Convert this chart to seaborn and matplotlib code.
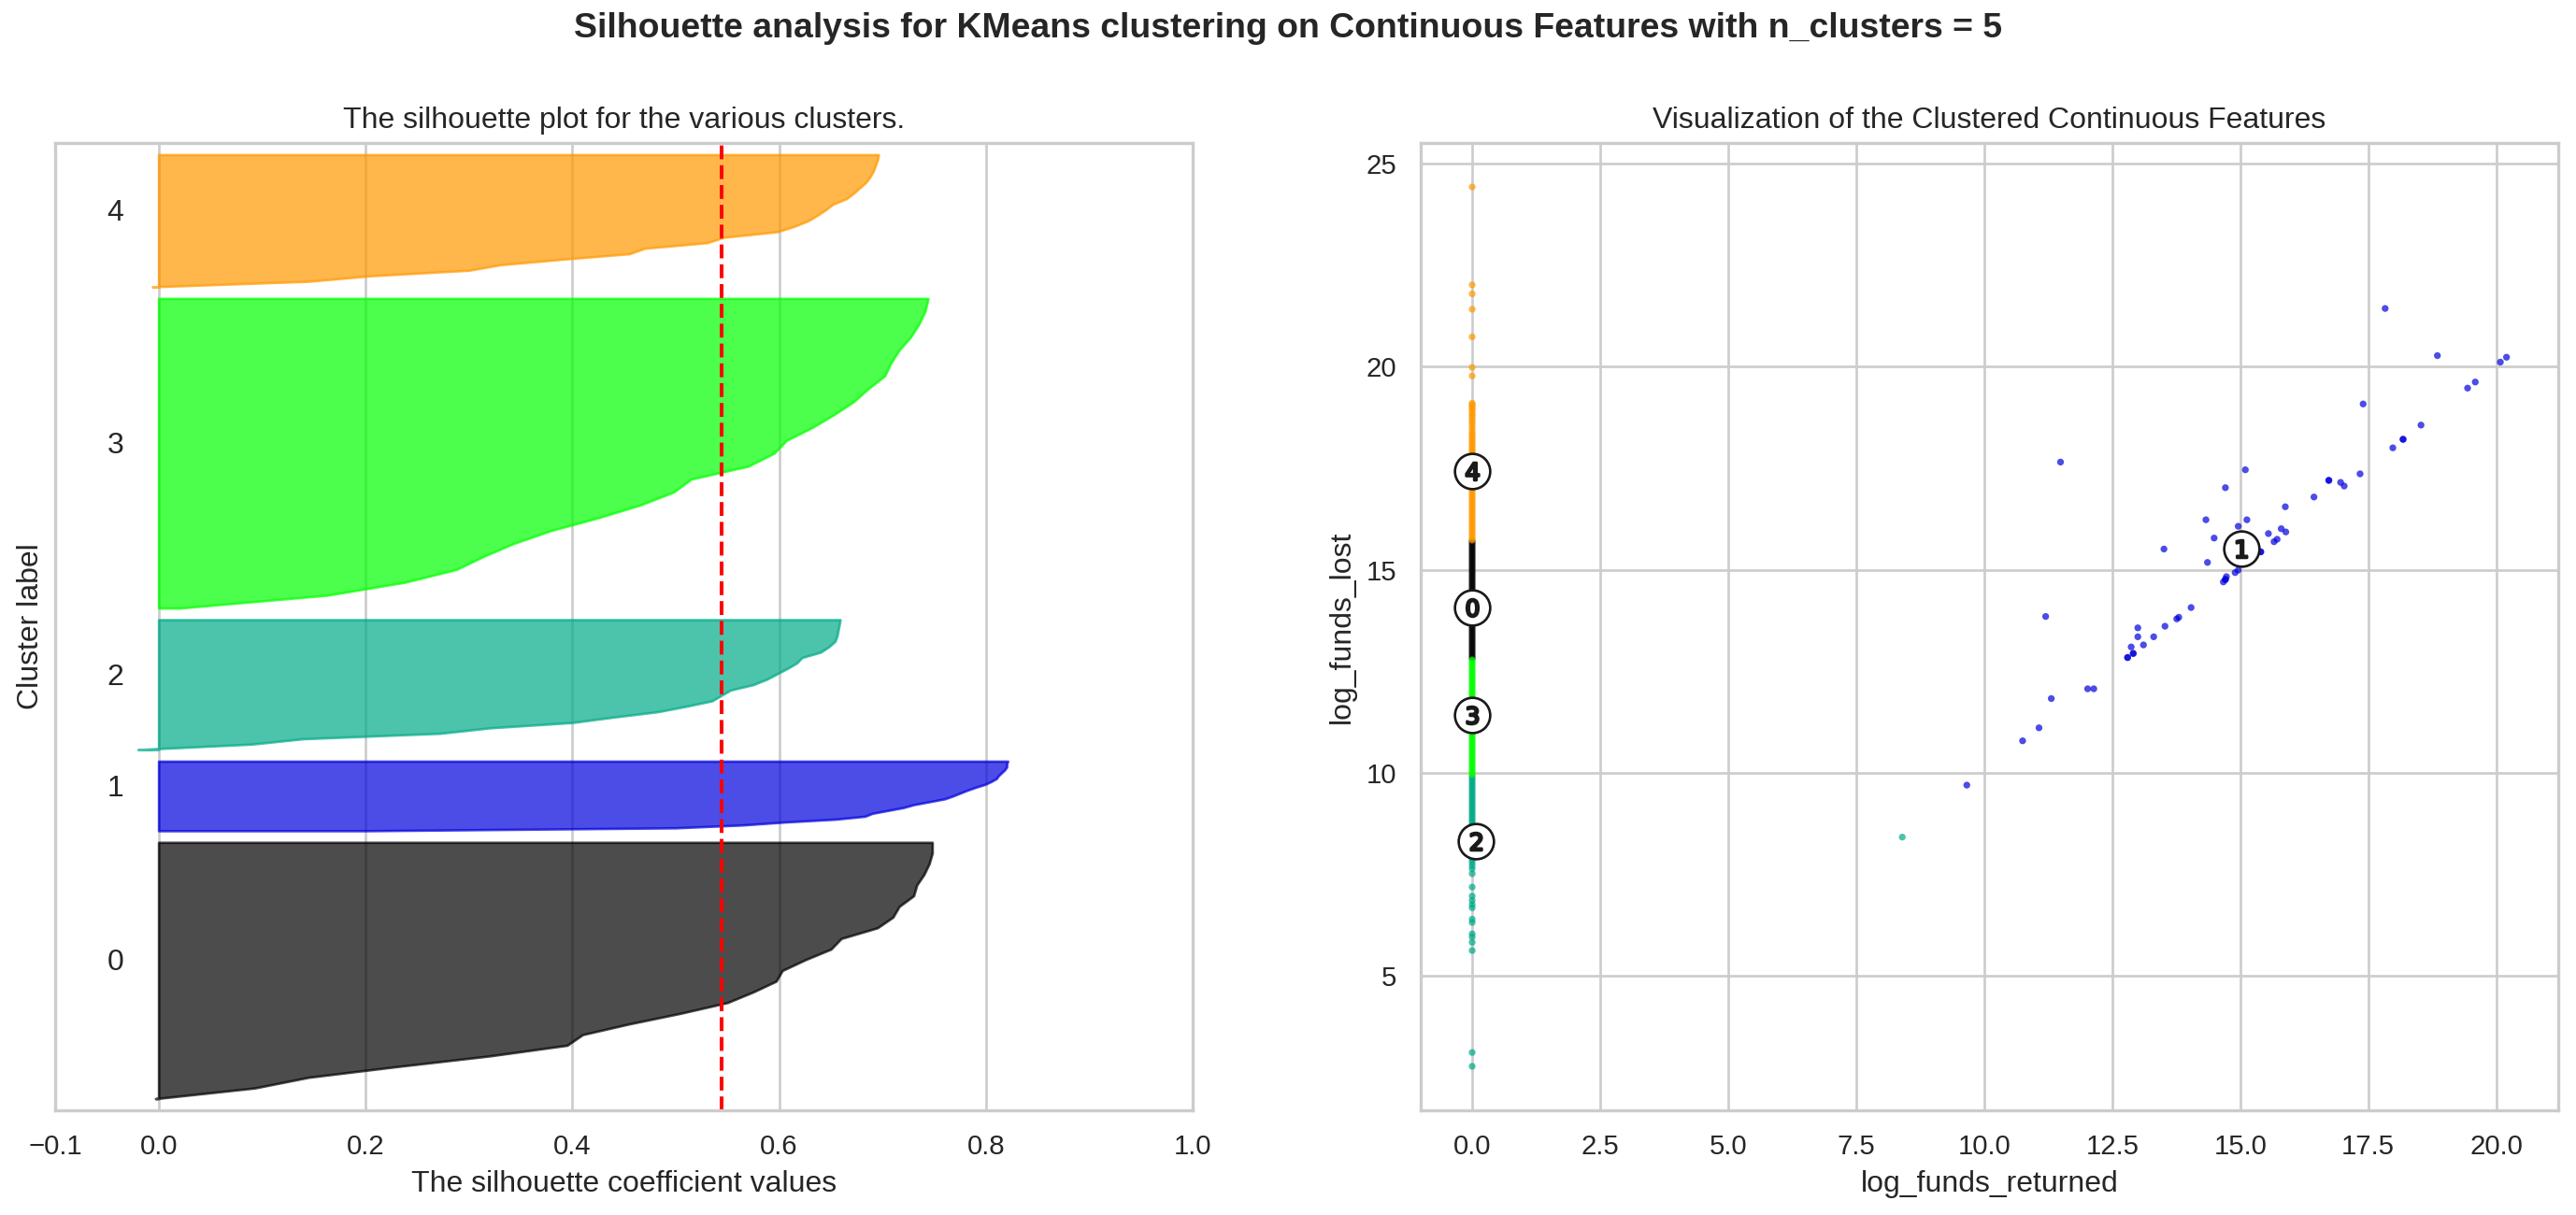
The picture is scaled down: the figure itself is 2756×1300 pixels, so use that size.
import numpy as np
import pandas as pd
import matplotlib
matplotlib.use("Agg")
import matplotlib.pyplot as plt
import matplotlib.cm as cm
import seaborn as sns

n_clusters = 5
silhouette_avg = 0.544

# rows per cluster in the silhouette plot
cluster_sizes = [221, 60, 112, 267, 114]

# sorted silhouette values per cluster (bottom -> top)
sil_0 = [-0.003, 0.093, 0.145, 0.23, 0.32, 0.395, 0.41, 0.455, 0.505, 0.55, 0.575, 0.597, 0.603,
         0.625, 0.65, 0.66, 0.695, 0.71, 0.716, 0.73, 0.733, 0.74, 0.745, 0.748, 0.748]
sil_1 = [0.2, 0.5, 0.565, 0.605, 0.655, 0.683, 0.69, 0.705, 0.72, 0.73, 0.745, 0.76, 0.768,
         0.775, 0.782, 0.79, 0.799, 0.805, 0.81, 0.812, 0.815, 0.818, 0.82, 0.82, 0.821]
sil_2 = [-0.02, 0.09, 0.14, 0.272, 0.32, 0.40, 0.44, 0.483, 0.51, 0.535, 0.544, 0.553, 0.575,
         0.588, 0.598, 0.608, 0.617, 0.622, 0.64, 0.648, 0.654, 0.656, 0.657, 0.658, 0.659]
sil_3 = [0.02, 0.163, 0.238, 0.288, 0.314, 0.343, 0.379, 0.425, 0.466, 0.498, 0.515, 0.57, 0.595,
         0.607, 0.632, 0.653, 0.672, 0.686, 0.702, 0.708, 0.716, 0.727, 0.735, 0.741, 0.744]
sil_4 = [-0.006, 0.145, 0.205, 0.30, 0.33, 0.39, 0.455, 0.47, 0.53, 0.547, 0.598, 0.615, 0.628,
         0.637, 0.645, 0.652, 0.665, 0.672, 0.678, 0.684, 0.688, 0.691, 0.693, 0.695, 0.696]
sil_values = [sil_0, sil_1, sil_2, sil_3, sil_4]

# scatter points: log_funds_lost per cluster (clusters 0, 2, 3, 4 sit at log_funds_returned = 0)
lost_c0 = [15.70, 15.64, 15.58, 15.52, 15.46, 15.40, 15.34, 15.28, 15.22, 15.16, 15.10, 15.04,
           14.98, 14.92, 14.86, 14.80, 14.74, 14.68, 14.62, 14.56, 14.50, 14.44, 14.38, 14.32,
           14.26, 14.20, 14.14, 14.08, 14.02, 13.96, 13.90, 13.84, 13.78, 13.72, 13.66, 13.60,
           13.54, 13.48, 13.42, 13.36, 13.30, 13.24, 13.18, 13.12, 13.06, 13.00, 12.94, 12.88, 12.82]
returned_c0 = [0.0] * len(lost_c0)

returned_c1 = [17.83, 18.85, 20.08, 20.20, 19.44, 19.59, 17.40, 18.53, 18.18, 18.18, 17.98, 11.49,
               15.10, 14.71, 17.34, 16.73, 16.73, 16.96, 17.03, 16.44, 15.88, 14.33, 15.13, 14.96,
               15.80, 15.89, 15.55, 14.49, 15.72, 15.66, 13.51, 15.40, 15.40, 14.36, 14.96, 14.90,
               14.73, 14.71, 14.71, 14.67, 14.04, 13.80, 13.76, 11.20, 13.53, 13.00, 13.00, 13.31,
               13.11, 12.87, 12.91, 12.91, 12.80, 12.80, 12.02, 12.14, 11.31, 11.07, 10.75, 9.66]
lost_c1 = [21.43, 20.27, 20.11, 20.23, 19.47, 19.62, 19.08, 18.56, 18.21, 18.21, 18.00, 17.65,
           17.46, 17.02, 17.36, 17.20, 17.20, 17.15, 17.06, 16.79, 16.55, 16.23, 16.23, 16.07,
           16.01, 15.93, 15.89, 15.78, 15.75, 15.69, 15.51, 15.44, 15.44, 15.18, 14.99, 14.93,
           14.83, 14.76, 14.76, 14.70, 14.07, 13.83, 13.79, 13.85, 13.61, 13.57, 13.35, 13.35,
           13.15, 13.10, 12.94, 12.94, 12.84, 12.84, 12.07, 12.07, 11.83, 11.11, 10.79, 9.70]

lost_c2 = [9.91, 9.85, 9.79, 9.73, 9.67, 9.61, 9.55, 9.49, 9.43, 9.37, 9.31, 9.25, 9.19, 9.13,
           9.07, 9.01, 8.95, 8.89, 8.83, 8.77, 8.71, 8.65, 8.59, 8.53, 8.47, 8.41, 8.35, 8.29,
           8.23, 8.17, 8.11, 8.05, 7.99, 7.93, 7.87, 7.80, 7.72, 7.64, 7.52, 7.19, 6.97, 6.86,
           6.76, 6.68, 6.40, 6.32, 6.04, 5.96, 5.83, 5.63, 3.12, 2.78, 8.42]
returned_c2 = [0.0] * (len(lost_c2) - 1) + [8.40]

lost_c3 = [12.78, 12.72, 12.66, 12.60, 12.54, 12.48, 12.42, 12.36, 12.30, 12.24, 12.18, 12.12,
           12.06, 12.00, 11.94, 11.88, 11.82, 11.76, 11.70, 11.64, 11.58, 11.52, 11.46, 11.40,
           11.34, 11.28, 11.22, 11.16, 11.10, 11.04, 10.98, 10.92, 10.86, 10.80, 10.74, 10.68,
           10.62, 10.56, 10.50, 10.44, 10.38, 10.32, 10.26, 10.20, 10.14, 10.08, 10.02, 9.96]
returned_c3 = [0.0] * len(lost_c3)

lost_c4 = [24.42, 22.01, 21.79, 21.41, 20.73, 19.98, 19.77, 19.10, 19.06, 19.02, 18.97, 18.92,
           18.85, 18.80, 18.74, 18.68, 18.62, 18.55, 18.48, 18.40, 18.34, 18.28, 18.22, 18.16,
           18.10, 18.04, 17.98, 17.93, 17.87, 17.82, 17.76, 17.70, 17.64, 17.58, 17.52, 17.46,
           17.40, 17.34, 17.28, 17.22, 17.16, 17.10, 17.04, 16.98, 16.92, 16.86, 16.80, 16.74,
           16.68, 16.62, 16.56, 16.50, 16.44, 16.38, 16.32, 16.26, 16.20, 16.14, 16.08, 16.02,
           15.96, 15.90, 15.84, 15.78, 15.73]
returned_c4 = [0.0] * len(lost_c4)

center_returned = [0.0, 15.03, 0.08, 0.0, 0.0]
center_lost = [14.07, 15.53, 8.33, 11.42, 17.42]

returned_all = [returned_c0, returned_c1, returned_c2, returned_c3, returned_c4]
lost_all = [lost_c0, lost_c1, lost_c2, lost_c3, lost_c4]
df = pd.concat([
    pd.DataFrame({'log_funds_returned': r, 'log_funds_lost': l, 'cluster': i})
    for i, (r, l) in enumerate(zip(returned_all, lost_all))
], ignore_index=True)

sns.set_theme(style="whitegrid")
plt.rcParams['font.family'] = ['Liberation Sans', 'DejaVu Sans']

colors = [cm.nipy_spectral(float(i) / n_clusters) for i in range(n_clusters)]
palette = {i: colors[i] for i in range(n_clusters)}

fig, (ax1, ax2) = plt.subplots(1, 2, figsize=(2756 / 192, 1300 / 192), dpi=192)
fig.subplots_adjust(left=0.0214, right=0.9931, bottom=0.0862, top=0.8823, wspace=0.2)

# silhouette plot
n_samples = sum(cluster_sizes)
ax1.set_xlim([-0.1, 1])
ax1.set_ylim([0, n_samples + (n_clusters + 1) * 10])
y_lower = 10
for i in range(n_clusters):
    size_i = cluster_sizes[i]
    y_upper = y_lower + size_i
    ys = np.linspace(y_lower, y_upper, len(sil_values[i]))
    ax1.fill_betweenx(ys, 0, sil_values[i], facecolor=colors[i], edgecolor=colors[i], alpha=0.7)
    ax1.text(-0.05, y_lower + 0.5 * size_i, str(i))
    y_lower = y_upper + 10

ax1.set_title("The silhouette plot for the various clusters.")
ax1.set_xlabel("The silhouette coefficient values")
ax1.set_ylabel("Cluster label")
ax1.axvline(x=silhouette_avg, color="red", linestyle="--")
ax1.set_yticks([])
ax1.set_xticks([-0.1, 0, 0.2, 0.4, 0.6, 0.8, 1])

# clustered features
sns.scatterplot(data=df, x='log_funds_returned', y='log_funds_lost', hue='cluster',
                palette=palette, marker='.', s=30, linewidth=0, alpha=0.7, legend=False, ax=ax2)
ax2.scatter(center_returned, center_lost, marker='o', c='white', alpha=1, s=200, edgecolor='k')
for i, (cx, cy) in enumerate(zip(center_returned, center_lost)):
    ax2.scatter(cx, cy, marker='$%d$' % i, alpha=1, s=50, c='k', edgecolor='k')
ax2.set_title("Visualization of the Clustered Continuous Features")

plt.suptitle("Silhouette analysis for KMeans clustering on Continuous Features with n_clusters = 5",
             fontsize=14, fontweight='bold', y=0.99)

plt.savefig("out.png", dpi=192)
